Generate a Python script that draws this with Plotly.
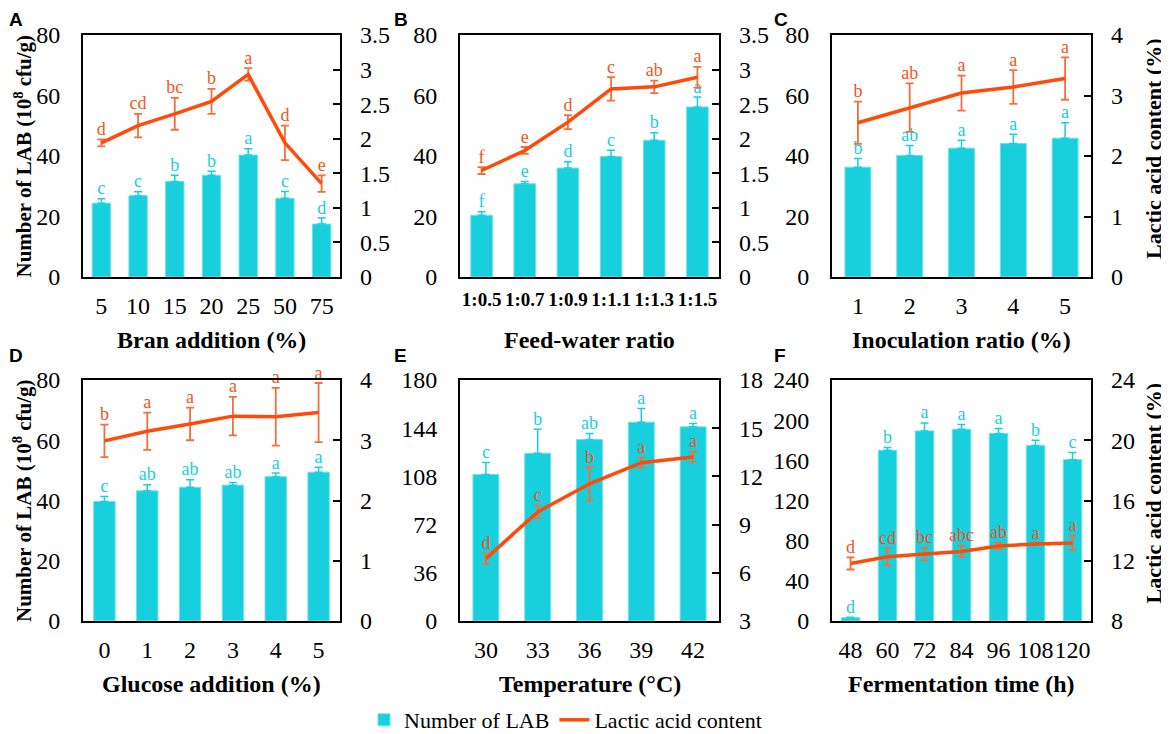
import plotly.graph_objects as go

# ---------------- data ----------------
A_cats = ["5", "10", "15", "20", "25", "50", "75"]
A_lab = [24.4, 26.9, 31.6, 33.6, 40.3, 26.0, 17.5]
A_lab_err = [1.5, 1.3, 2.0, 1.4, 2.1, 2.3, 2.0]
A_lab_sig = ["c", "c", "b", "b", "a", "c", "d"]
A_la = [1.94, 2.19, 2.36, 2.54, 2.93, 1.94, 1.35]
A_la_err = [0.05, 0.17, 0.23, 0.18, 0.09, 0.25, 0.12]
A_la_sig = ["d", "cd", "bc", "b", "a", "d", "e"]

B_cats = ["1:0.5", "1:0.7", "1:0.9", "1:1.1", "1:1.3", "1:1.5"]
B_lab = [20.4, 30.8, 36.0, 39.8, 45.2, 56.2]
B_lab_err = [1.2, 0.8, 2.1, 2.1, 2.5, 3.3]
B_lab_sig = ["f", "e", "d", "c", "b", "a"]
B_la = [1.54, 1.83, 2.24, 2.72, 2.75, 2.89]
B_la_err = [0.05, 0.05, 0.10, 0.17, 0.09, 0.15]
B_la_sig = ["f", "e", "d", "c", "ab", "a"]

C_cats = ["1", "2", "3", "4", "5"]
C_lab = [36.3, 40.2, 42.6, 44.1, 45.9]
C_lab_err = [2.9, 3.3, 2.6, 3.1, 5.1]
C_lab_sig = ["b", "ab", "a", "a", "a"]
C_la = [2.55, 2.80, 3.04, 3.14, 3.28]
C_la_err = [0.35, 0.40, 0.29, 0.28, 0.35]
C_la_sig = ["b", "ab", "a", "a", "a"]

D_cats = ["0", "1", "2", "3", "4", "5"]
D_lab = [39.7, 43.2, 44.4, 45.1, 47.9, 49.4]
D_lab_err = [1.6, 2.0, 2.5, 0.9, 1.2, 1.6]
D_lab_sig = ["c", "ab", "ab", "ab", "a", "a"]
D_la = [2.99, 3.15, 3.27, 3.40, 3.39, 3.46]
D_la_err = [0.27, 0.31, 0.27, 0.32, 0.48, 0.49]
D_la_sig = ["b", "a", "a", "a", "a", "a"]

E_cats = ["30", "33", "36", "39", "42"]
E_lab = [109.5, 125.3, 135.5, 148.5, 145.0]
E_lab_err = [8.8, 18.0, 4.5, 10.3, 2.5]
E_lab_sig = ["c", "b", "ab", "a", "a"]
E_la = [6.88, 9.79, 11.54, 12.85, 13.21]
E_la_err = [0.31, 0.39, 1.03, 0.32, 0.31]
E_la_sig = ["d", "c", "b", "a", "a"]

F_cats = ["48", "60", "72", "84", "96", "108", "120"]
F_lab = [3.3, 170.0, 189.3, 191.0, 186.7, 174.7, 160.7]
F_lab_err = [0.5, 2.7, 8.0, 4.7, 5.0, 5.3, 7.0]
F_lab_sig = ["d", "b", "a", "a", "a", "b", "c"]
F_la = [11.82, 12.27, 12.44, 12.62, 12.98, 13.11, 13.18]
F_la_err = [0.40, 0.57, 0.42, 0.36, 0.20, 0.05, 0.48]
F_la_sig = ["d", "cd", "bc", "abc", "ab", "a", "a"]

x_titles = ["Bran addition (%)", "Feed-water ratio", "Inoculation ratio (%)",
            "Glucose addition (%)", "Temperature (°C)", "Fermentation time (h)"]
panel_letters = ["A", "B", "C", "D", "E", "F"]
left_ranges = [(0, 80, 20), (0, 80, 20), (0, 80, 20), (0, 80, 20), (0, 180, 36), (0, 240, 40)]
right_ranges = [(0, 3.5, 0.5), (0, 3.5, 0.5), (0, 4, 1), (0, 4, 1), (3, 18, 3), (8, 24, 4)]

# ---------------- styling ----------------
# page body has an 8px default margin, so the figure is sized to fill the window
OFF = 8
W, H = 1169 - OFF, 734 - OFF
SERIF = "Liberation Serif"
BAR = "#18CFDD"
LINE = "#FF4A0A"
LINE_ERR = "#F2703C"
SIG_LINE = "#F0561E"


def fx(px):
    return (px - OFF) / W


def fy(py):
    return 1 - (py - OFF) / H


panels = [
    (A_cats, A_lab, A_lab_err, A_lab_sig, A_la, A_la_err, A_la_sig),
    (B_cats, B_lab, B_lab_err, B_lab_sig, B_la, B_la_err, B_la_sig),
    (C_cats, C_lab, C_lab_err, C_lab_sig, C_la, C_la_err, C_la_sig),
    (D_cats, D_lab, D_lab_err, D_lab_sig, D_la, D_la_err, D_la_sig),
    (E_cats, E_lab, E_lab_err, E_lab_sig, E_la, E_la_err, E_la_sig),
    (F_cats, F_lab, F_lab_err, F_lab_sig, F_la, F_la_err, F_la_sig),
]

# window-pixel boxes (left, right) and (top, bottom)
col_x = [(83, 340), (460, 719), (832, 1091)]
row_y = [(35, 277), (380, 621)]

fig = go.Figure()
layout = dict(
    width=W, height=H, margin=dict(l=0, r=0, t=0, b=0, autoexpand=False),
    paper_bgcolor="white", plot_bgcolor="white",
    font=dict(family=SERIF, color="black"),
    showlegend=True,
    legend=dict(orientation="h", x=fx(364), y=fy(720), xanchor="left", yanchor="middle",
                font=dict(family=SERIF, size=22), bgcolor="rgba(0,0,0,0)",
                itemwidth=30, tracegroupgap=0),
    bargap=0.5,
)
annotations = []

for i, (cats, lab, lab_err, lab_sig, la, la_err, la_sig) in enumerate(panels):
    r, c = divmod(i, 3)
    x0, x1 = col_x[c]
    yt, yb = row_y[r]
    xa = "x" if i == 0 else f"x{i + 1}"
    ya_n = 2 * i + 1
    yb_n = 2 * i + 2
    ya = "y" if ya_n == 1 else f"y{ya_n}"
    yb2 = f"y{yb_n}"

    fig.add_trace(go.Bar(
        x=cats, y=lab, xaxis=xa, yaxis=ya, name="Number of LAB",
        marker=dict(color=BAR, line=dict(color="#6FE0EA", width=1)),
        error_y=dict(type="data", symmetric=False, array=lab_err, arrayminus=[0] * len(lab),
                     color=BAR, thickness=1.5, width=4),
        showlegend=(i == 0), legendgroup="lab",
    ))
    fig.add_trace(go.Scatter(
        x=cats, y=[v + e for v, e in zip(lab, lab_err)], xaxis=xa, yaxis=ya,
        mode="text", text=lab_sig, textposition="top center",
        textfont=dict(family=SERIF, size=18, color=BAR), showlegend=False, cliponaxis=False,
        hoverinfo="skip",
    ))
    fig.add_trace(go.Scatter(
        x=cats, y=la, xaxis=xa, yaxis=yb2, name="Lactic acid content",
        mode="lines", line=dict(color=LINE, width=3.5),
        error_y=dict(type="data", array=la_err, color=LINE_ERR, thickness=1.8, width=4),
        showlegend=(i == 0), legendgroup="la",
    ))
    fig.add_trace(go.Scatter(
        x=cats, y=[v + e for v, e in zip(la, la_err)], xaxis=xa, yaxis=yb2,
        mode="text", text=la_sig, textposition="top center",
        textfont=dict(family=SERIF, size=18, color=SIG_LINE), showlegend=False, cliponaxis=False,
        hoverinfo="skip",
    ))

    lo, hi, dt = left_ranges[i]
    rlo, rhi, rdt = right_ranges[i]
    xdom = [fx(x0), fx(x1)]
    ydom = [fy(yb), fy(yt)]
    small = (i == 1)
    layout["xaxis" if i == 0 else f"xaxis{i + 1}"] = dict(
        domain=xdom, anchor=ya, type="category", automargin=False,
        showline=True, linecolor="black", linewidth=2, mirror=True,
        ticks="", showgrid=False, zeroline=False,
        ticklabelstandoff=(4 if small else 6),
        tickfont=dict(family=SERIF, size=(19 if small else 24), color="black"),
        tickangle=0,
    )
    if small:
        layout["xaxis2"]["tickvals"] = cats
        layout["xaxis2"]["ticktext"] = [f"<b>{t}</b>" for t in cats]
    layout["yaxis" if ya_n == 1 else f"yaxis{ya_n}"] = dict(
        domain=ydom, anchor=xa, range=[lo, hi], dtick=dt, tick0=lo, automargin=False,
        showline=True, linecolor="black", linewidth=2, mirror=True,
        ticks="", showgrid=False, zeroline=False, ticklabelstandoff=16,
        tickfont=dict(family=SERIF, size=24, color="black"),
    )
    layout[f"yaxis{yb_n}"] = dict(
        overlaying=ya, side="right", anchor=xa, range=[rlo, rhi], dtick=rdt, tick0=rlo,
        automargin=False,
        showline=False, ticks="inside", ticklen=7, tickwidth=2, tickcolor="black",
        showgrid=False, zeroline=False, ticklabelstandoff=19,
        tickfont=dict(family=SERIF, size=24, color="black"),
    )

    # x title
    annotations.append(dict(
        text=f"<b>{x_titles[i]}</b>", x=fx((x0 + x1) / 2), y=fy(yb + 63),
        xref="paper", yref="paper", xanchor="center", yanchor="middle", showarrow=False,
        font=dict(family=SERIF, size=24, color="black"),
    ))
    # panel letter
    if r == 0:
        ly, lanchor = 1.0, "top"
    else:
        ly, lanchor = fy(356), "middle"
    annotations.append(dict(
        text=f"<b>{panel_letters[i]}</b>", x=fx([8, 393, 773][c]), y=ly,
        xref="paper", yref="paper", xanchor="left", yanchor=lanchor, showarrow=False,
        font=dict(family="Liberation Sans", size=19, color="black"), borderpad=0,
    ))

# y titles
for r, (yt, yb) in enumerate(row_y):
    annotations.append(dict(
        text="<b>Number of LAB (10<sup>8</sup> cfu/g)</b>", x=0, y=fy((yt + yb) / 2),
        xref="paper", yref="paper", xanchor="left", yanchor="middle", showarrow=False,
        textangle=-90, font=dict(family=SERIF, size=21, color="black"), borderpad=0,
    ))
    annotations.append(dict(
        text="<b>Lactic acid content (%)</b>", x=fx(1153), y=fy((yt + yb) / 2 - 7),
        xref="paper", yref="paper", xanchor="center", yanchor="middle", showarrow=False,
        textangle=-90, font=dict(family=SERIF, size=22, color="black"),
    ))

layout["annotations"] = annotations
fig.update_layout(**layout)
fig.write_html("out.html")
